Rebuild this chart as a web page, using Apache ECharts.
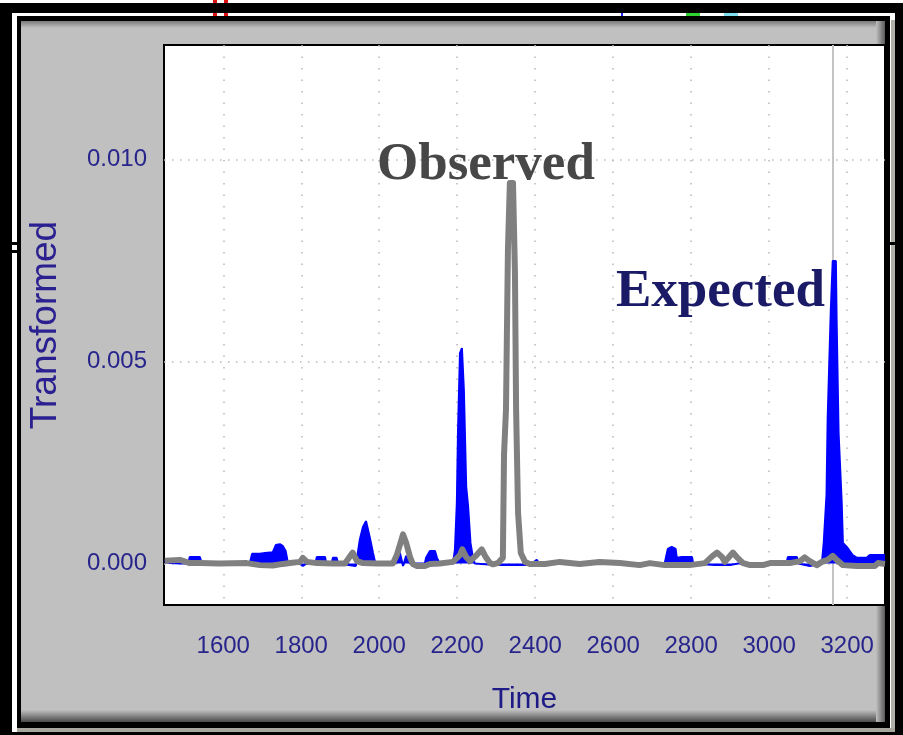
<!DOCTYPE html>
<html><head><meta charset="utf-8">
<script src="https://cdn.jsdelivr.net/npm/echarts@6/dist/echarts.min.js"></script>
<style>html,body{margin:0;padding:0;background:#fff}#c{width:903px;height:735px}</style>
</head><body><div id="c"></div>
<script>
// ---- data ----
const xTickValues = [1600, 1800, 2000, 2200, 2400, 2600, 2800, 3000, 3200];
const yTickValues = [0, 0.005, 0.010];

const expectedTime = [1450, 1463, 1489, 1510, 1514, 1540, 1545, 1668, 1674, 1694, 1707, 1727, 1735, 1745, 1753, 1760, 1766, 1797, 1804, 1812, 1836, 1840, 1861, 1864, 1878, 1881, 1891, 1894, 1940, 1950, 1958, 1966, 1971, 1976, 1984, 1990, 2035, 2045, 2053, 2061, 2069, 2079, 2117, 2120, 2130, 2143, 2148, 2155, 2189, 2194, 2199, 2202, 2207, 2212, 2217, 2223, 2228, 2234, 2240, 2245, 2300, 2320, 2350, 2386, 2404, 2410, 2732, 2740, 2750, 2760, 2763, 2776, 2802, 2805, 2860, 2900, 2920, 3044, 3048, 3071, 3075, 3104, 3135, 3140, 3147, 3150, 3158, 3163, 3171, 3173, 3178, 3186, 3189, 3199, 3214, 3225, 3250, 3258, 3297];
const expectedValue = [0.00009, 0.00001, 0, 0, 0.00016, 0.00016, 0, 0, 0.00024, 0.00024, 0.00026, 0.00028, 0.00046, 0.00048, 0.00043, 0.00031, 0, -0.00001, -0.00006, -0.00001, 0, 0.00016, 0.00016, 0, 0, 0.00014, 0.00014, 0, -0.00006, 0.00058, 0.0009, 0.00105, 0.00105, 0.00063, 0.00026, 0, 0, 0.00031, 0.00026, -0.00006, 0.00019, 0, 0, 0.00014, 0.00031, 0.00031, 0.00014, 0, 0, 0.00033, 0.0015, 0.0033, 0.00521, 0.00533, 0.0043, 0.0019, 0.0014, 0.00051, 0.00016, 0, -0.00004, -0.00004, -0.00004, -0.00004, 0.00009, 0, 0, 0.00036, 0.00041, 0.00036, 0.00014, 0.00016, 0.00016, 0, -0.00004, -0.00004, 0, 0, 0.00016, 0.00016, 0, -0.00006, 0, 0.00053, 0.0017, 0.0036, 0.00627, 0.00749, 0.00749, 0.00598, 0.00323, 0.0015, 0.00051, 0.00041, 0.00021, 0.00014, 0.00014, 0.00021, 0.00021];

const observedTime = [1450, 1489, 1514, 1540, 1590, 1660, 1694, 1727, 1753, 1771, 1797, 1804, 1815, 1840, 1880, 1912, 1932, 1943, 1958, 1994, 2035, 2045, 2053, 2061, 2069, 2079, 2086, 2097, 2117, 2130, 2155, 2189, 2207, 2213, 2223, 2233, 2248, 2263, 2273, 2284, 2291, 2304, 2317, 2320, 2325, 2330, 2335, 2343, 2348, 2351, 2356, 2363, 2374, 2386, 2425, 2463, 2514, 2565, 2617, 2668, 2694, 2732, 2796, 2835, 2855, 2866, 2879, 2886, 2897, 2907, 2917, 2933, 2951, 2984, 3002, 3053, 3079, 3091, 3104, 3122, 3135, 3150, 3163, 3173, 3189, 3225, 3271, 3279, 3297];
const observedValue = [0.00007, 0.00009, 0.00001, 0.00001, 0, 0.00001, -0.00004, -0.00005, -0.00001, 0.00001, 0.00004, 0.00014, 0.00004, 0.00001, 0, 0, 0.00027, 0.00006, 0.00001, 0, 0, 0.00021, 0.00046, 0.00072, 0.00051, 0.00016, -0.00001, -0.00006, -0.00006, -0.00001, 0, 0.00004, 0.00021, 0.00035, 0.00016, 0.00006, 0.00019, 0.00035, 0.00016, 0.00001, -0.00002, 0.00001, 0.00014, 0.0027, 0.0038, 0.00776, 0.00942, 0.00942, 0.00719, 0.0038, 0.00125, 0.00026, 0.00004, -0.00001, -0.00001, 0.00004, -0.00001, 0.00004, 0.00001, -0.00004, 0.00001, -0.00004, -0.00004, 0.00001, 0.00019, 0.00027, 0.00016, 0.00004, 0.00016, 0.00027, 0.00016, 0.00001, -0.00004, -0.00004, 0.00001, 0.00001, 0.00006, 0.00015, 0.00006, -0.00004, 0.00004, 0.00009, 0.00019, 0.00009, -0.00004, -0.00006, -0.00006, 0.00001, -0.00001];

const cursorTime = 3163;
const xRange = [1448, 3297];
const yRange = [-0.001027, 0.012834];

// ---- build ----
const zip = (a, b) => a.slice(0, Math.min(a.length, b.length)).map((v, i) => [v, b[i]]);
const expectedPairs = zip(expectedTime, expectedValue);
const observedPairs = zip(observedTime, observedValue);

const SANS = "'Liberation Sans',Arial,sans-serif";
const LABEL_COLOR = '#27248c';

const chart = echarts.init(document.getElementById('c'), null, {renderer: 'canvas'});
const option = {
  animation: false,
  grid: {left: 164, right: 18, top: 45, bottom: 130, show: true, backgroundColor: '#ffffff', borderColor: '#000000', borderWidth: 2},
  xAxis: {
    type: 'value', min: xRange[0], max: xRange[1],
    axisLine: {show: false},
    axisTick: {show: false, customValues: xTickValues},
    axisLabel: {customValues: xTickValues, fontFamily: SANS, fontSize: 24, color: LABEL_COLOR, margin: 29,
      formatter: v => String(v)},
    splitLine: {show: true, lineStyle: {color: '#b8b8b8', width: 1.5, type: [1.5, 10]}},
    name: 'Time', nameLocation: 'middle', nameGap: 80,
    nameTextStyle: {fontFamily: SANS, fontSize: 30, color: '#1e1a86'}
  },
  yAxis: {
    type: 'value', min: yRange[0], max: yRange[1],
    axisLine: {show: false},
    axisTick: {show: false, customValues: yTickValues},
    axisLabel: {customValues: yTickValues, fontFamily: SANS, fontSize: 24, color: LABEL_COLOR, margin: 17,
      formatter: v => v.toFixed(3)},
    splitLine: {show: true, lineStyle: {color: '#b8b8b8', width: 1.5, type: [1.5, 6.5]}},
    name: 'Transformed', nameLocation: 'middle', nameGap: 100,
    nameTextStyle: {fontFamily: SANS, fontSize: 37, color: '#2a2090'}
  },
  graphic: [
    {type: 'rect', z: -30, silent: true, shape: {x: 0, y: 3, width: 903, height: 732}, style: {fill: '#000'}},
    {type: 'rect', z: -29, silent: true, shape: {x: 12, y: 13, width: 883, height: 719}, style: {fill: '#fff'}},
    {type: 'rect', z: -28, silent: true, shape: {x: 891, y: 20, width: 4, height: 712}, style: {fill: '#b0b0a8'}},
    {type: 'rect', z: -28, silent: true, shape: {x: 17, y: 728, width: 878, height: 4}, style: {fill: '#a8a8a0'}},
    {type: 'rect', z: -27, silent: true, shape: {x: 17, y: 16, width: 873, height: 712}, style: {fill: '#000'}},
    {type: 'rect', z: -26, silent: true, shape: {x: 21, y: 21, width: 864, height: 701}, style: {fill: '#c0c0c0'}},
    {type: 'rect', z: -25, silent: true, shape: {x: 21, y: 21, width: 864, height: 7},
      style: {fill: new echarts.graphic.LinearGradient(0, 0, 0, 1, [{offset: 0, color: '#7a7a7a'}, {offset: 1, color: '#c0c0c0'}])}},
    {type: 'rect', z: -25, silent: true, shape: {x: 21, y: 710, width: 864, height: 12},
      style: {fill: new echarts.graphic.LinearGradient(0, 0, 0, 1, [{offset: 0, color: '#c0c0c0'}, {offset: 1, color: '#4a4a4a'}])}},
    {type: 'rect', z: -25, silent: true, shape: {x: 876, y: 21, width: 9, height: 701},
      style: {fill: new echarts.graphic.LinearGradient(0, 0, 1, 0, [{offset: 0, color: '#c0c0c0'}, {offset: 1, color: '#5a5a5a'}])}},
    // small marks on the frame
    {type: 'rect', z: -24, silent: true, shape: {x: 213, y: 0, width: 4, height: 3}, style: {fill: '#e01010'}},
    {type: 'rect', z: -24, silent: true, shape: {x: 224, y: 0, width: 4, height: 3}, style: {fill: '#e01010'}},
    {type: 'rect', z: -24, silent: true, shape: {x: 213, y: 13, width: 4, height: 3}, style: {fill: '#e01010'}},
    {type: 'rect', z: -24, silent: true, shape: {x: 224, y: 13, width: 4, height: 3}, style: {fill: '#e01010'}},
    {type: 'rect', z: -24, silent: true, shape: {x: 0, y: 242, width: 21, height: 3}, style: {fill: '#000'}},
    {type: 'rect', z: -24, silent: true, shape: {x: 0, y: 250, width: 21, height: 3}, style: {fill: '#000'}},
    {type: 'rect', z: -24, silent: true, shape: {x: 885, y: 242, width: 18, height: 3}, style: {fill: '#000'}},
    {type: 'rect', z: -24, silent: true, shape: {x: 621, y: 13, width: 2, height: 3}, style: {fill: '#2020ff'}},
    {type: 'rect', z: -24, silent: true, shape: {x: 686, y: 13, width: 14, height: 3}, style: {fill: '#30d030'}},
    {type: 'rect', z: -24, silent: true, shape: {x: 724, y: 13, width: 14, height: 3}, style: {fill: '#80e0f0'}},
    // annotations
    {type: 'text', z: 20, silent: true, x: 377, y: 165,
      style: {text: 'Observed', font: "bold 53px 'Liberation Serif','Times New Roman',serif", fill: '#474747', align: 'left', verticalAlign: 'middle'}},
    {type: 'text', z: 20, silent: true, x: 616, y: 292,
      style: {text: 'Expected', font: "bold 53px 'Liberation Serif','Times New Roman',serif", fill: '#1a1a66', align: 'left', verticalAlign: 'middle'}}
  ],
  series: [
    {
      name: 'Expected', type: 'line', data: expectedPairs, symbol: 'none', z: 2,
      lineStyle: {color: '#0000ff', width: 2},
      areaStyle: {color: '#0000ff', opacity: 1},
      markLine: {silent: true, z: 1, symbol: ['none', 'none'], label: {show: false},
        lineStyle: {color: '#c4c4c4', width: 2, type: 'solid'}, emphasis: {disabled: true},
        data: [{xAxis: cursorTime}]}
    },
    {
      name: 'Observed', type: 'line', data: observedPairs, symbol: 'none', z: 3,
      lineStyle: {color: '#808080', width: 6, join: 'round'}
    }
  ]
};
chart.setOption(option);
</script></body></html>
